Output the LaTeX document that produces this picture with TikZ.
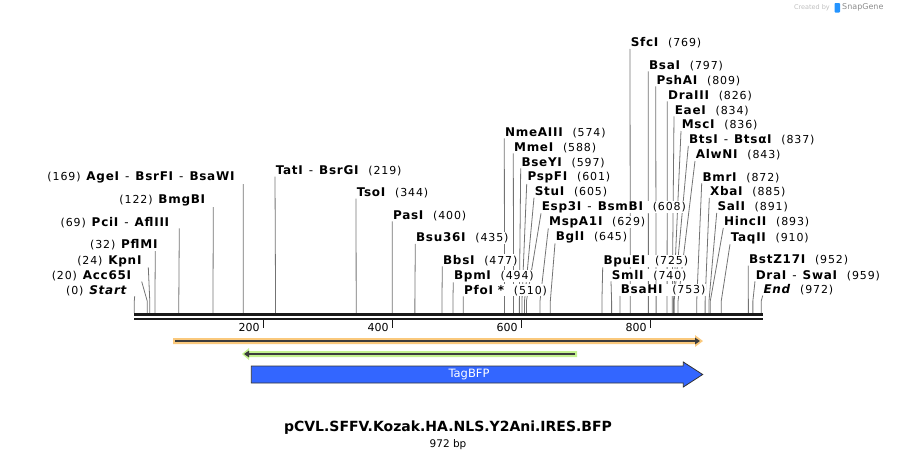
\documentclass[tikz,border=0pt]{standalone}
\usepackage{fontspec}
\setmainfont{DejaVu Sans}
\newfontfamily\numfont{DejaVu Sans}[LetterSpace=8]
\newfontfamily\namefont{DejaVu Sans}[LetterSpace=6]
\usetikzlibrary{arrows.meta,backgrounds,positioning}
\definecolor{featorange}{RGB}{250,201,125}
\definecolor{featgreen}{RGB}{196,242,143}
\definecolor{featdark}{RGB}{60,60,60}
\definecolor{tagblue}{RGB}{51,102,255}
\newcommand{\sitesep}{{\mdseries\hspace{6pt}-\hspace{6pt}}}
\newcommand{\sitenum}[1]{{\numfont\fontsize{11}{12}\selectfont(#1)}}
\tikzset{
site/.style={fill=white,inner sep=0.6pt,font=\namefont\fontsize{12}{13}\selectfont},
cutline/.style={draw=black!55,line width=0.8pt},
seqbar/.style={line width=2.7pt,black!90},
tickmark/.style={line width=1.6pt,black!90},
ticklabel/.style={font=\fontsize{11}{12}\selectfont,inner sep=0pt},
featline/.style={line width=2pt,featdark},
featbox/.style={fill=tagblue,draw=black!80,line width=0.8pt}
}

\begin{document}
\begin{tikzpicture}[x=1pt,y=-1pt]
\useasboundingbox (0,0) rectangle (897,459);
% sequence
\draw[seqbar] (134,314.7) -- (763,314.7);
\draw[seqbar,line width=2pt] (134,319) -- (763,319);
\foreach \t in {200,400,600,800} {
  \coordinate (t\t) at ({134.3+0.645*\t},320);
  \draw[tickmark] (t\t) -- ++(0,8);
  \node[ticklabel,anchor=east] (n\t) at ([xshift=-3.5pt,yshift=-7pt]t\t) {\t};
}
% sites, label right of the cut
\foreach \bp/\lx/\ly/\nm [count=\i] in {
  219/275/174.3/{TatI\sitesep BsrGI}, 344/356/196.3/TsoI, 400/392.3/219/PasI,
  435/415.3/241.7/Bsu36I, 477/442.3/264/BbsI, 494/453.3/279/BpmI,
  510/463.3/294/{PfoI *}, 574/504.3/136/NmeAIII, 588/513.3/151/MmeI,
  597/520.7/166/BseYI, 601/526.7/180.7/PspFI, 605/534/195.3/StuI,
  608/541/210/{Esp3I\sitesep BsmBI}, 629/548.3/225/MspA1I, 645/555/240/BglI,
  725/602.7/264/BpuEI, 740/611/279/SmlI, 753/620/293.7/BsaHI,
  769/630/46.7/SfcI, 797/648.3/69/BsaI, 809/655.7/84/PshAI,
  826/667.3/99/DraIII, 834/674/114/EaeI, 836/681/128.7/MscI,
  837/688.3/143.7/{BtsI\sitesep BtsαI}, 843/695/158.7/AlwNI,
  872/701.7/181/BmrI, 885/709.3/195.7/XbaI, 891/716.7/210.7/SalI,
  893/723.3/225.7/HincII, 910/730/241/TaqII, 952/748.3/263.3/BstZ17I,
  959/755/279/{DraI\sitesep SwaI}, 972/762.7/293.3/{\itshape End}} {
  \coordinate (cr\i) at ({134.3+0.645*\bp},313);
  \node[site,anchor=base west] (r\i) at (\lx,\ly) {\textbf{\nm}\hspace{9pt}\sitenum{\bp}};
  \begin{scope}[on background layer]
    \draw[cutline] (r\i.south west) -- ([yshift=12pt]cr\i) -- (cr\i);
  \end{scope}
}
% sites, label left of the cut
\foreach \bp/\rx/\ly/\tx/\nm [count=\i] in {
  0/128.3/294/134.7/{\itshape Start}, 20/132.7/279.3/141.7/Acc65I,
  24/143/264/148.3/KpnI, 32/159/248.7/155.3/PflMI,
  69/170.7/226/179.3/{PciI\sitesep AflIII}, 122/206.7/203.7/213.3/BmgBI,
  169/236/180.7/243.3/{AgeI\sitesep BsrFI\sitesep BsaWI}} {
  \coordinate (cl\i) at ({134.3+0.645*\bp},313);
  \node[site,anchor=base east] (l\i) at (\rx,\ly) {\sitenum{\bp}\hspace{5pt}\textbf{\nm}};
  \begin{scope}[on background layer]
    \draw[cutline] (\tx,0 |- l\i.south) -- ([yshift=12pt]cl\i) -- (cl\i);
  \end{scope}
}
% features
\fill[featorange] (173,338) -- (695,338) -- (695,335) -- (703,341) -- (695,347) -- (695,344) -- (173,344) -- cycle;
\draw[featline,-{Triangle[length=5pt,width=6.5pt]}] (175,341) -- (700,341);
\fill[featgreen] (577,351) -- (249,351) -- (249,348) -- (242,354) -- (249,360) -- (249,357) -- (577,357) -- cycle;
\draw[featline,-{Triangle[length=5pt,width=6.5pt]}] (575,354) -- (244,354);
\filldraw[featbox] (251.3,366) -- (683.3,366) -- (683.3,362) -- (702.7,374.5) -- (683.3,387) -- (683.3,383) -- (251.3,383) -- cycle;
\node[text=white,font=\fontsize{11.5}{13}\selectfont] (bfp) at (469,374.5) {TagBFP};
% title
\node[font=\bfseries\fontsize{14}{15}\selectfont] (title) at (448,428) {pCVL.SFFV.Kozak.HA.NLS.Y2Ani.IRES.BFP};
\node[font=\fontsize{10.5}{12}\selectfont,below=0pt of title,inner sep=1pt] (len) {972 bp};
% credit
\node[text=black!25,font=\fontsize{6.5}{7}\selectfont,anchor=east,inner sep=0pt] (cby) at (830,7.5) {Created by};
\fill[tagblue!70!cyan,rounded corners=0.8pt] (834.5,3) rectangle (840,12.5);
\node[text=black!45,font=\fontsize{8}{9}\selectfont,anchor=west,inner sep=0pt] (sg) at (842,7.5) {SnapGene};
\end{tikzpicture}
\end{document}
